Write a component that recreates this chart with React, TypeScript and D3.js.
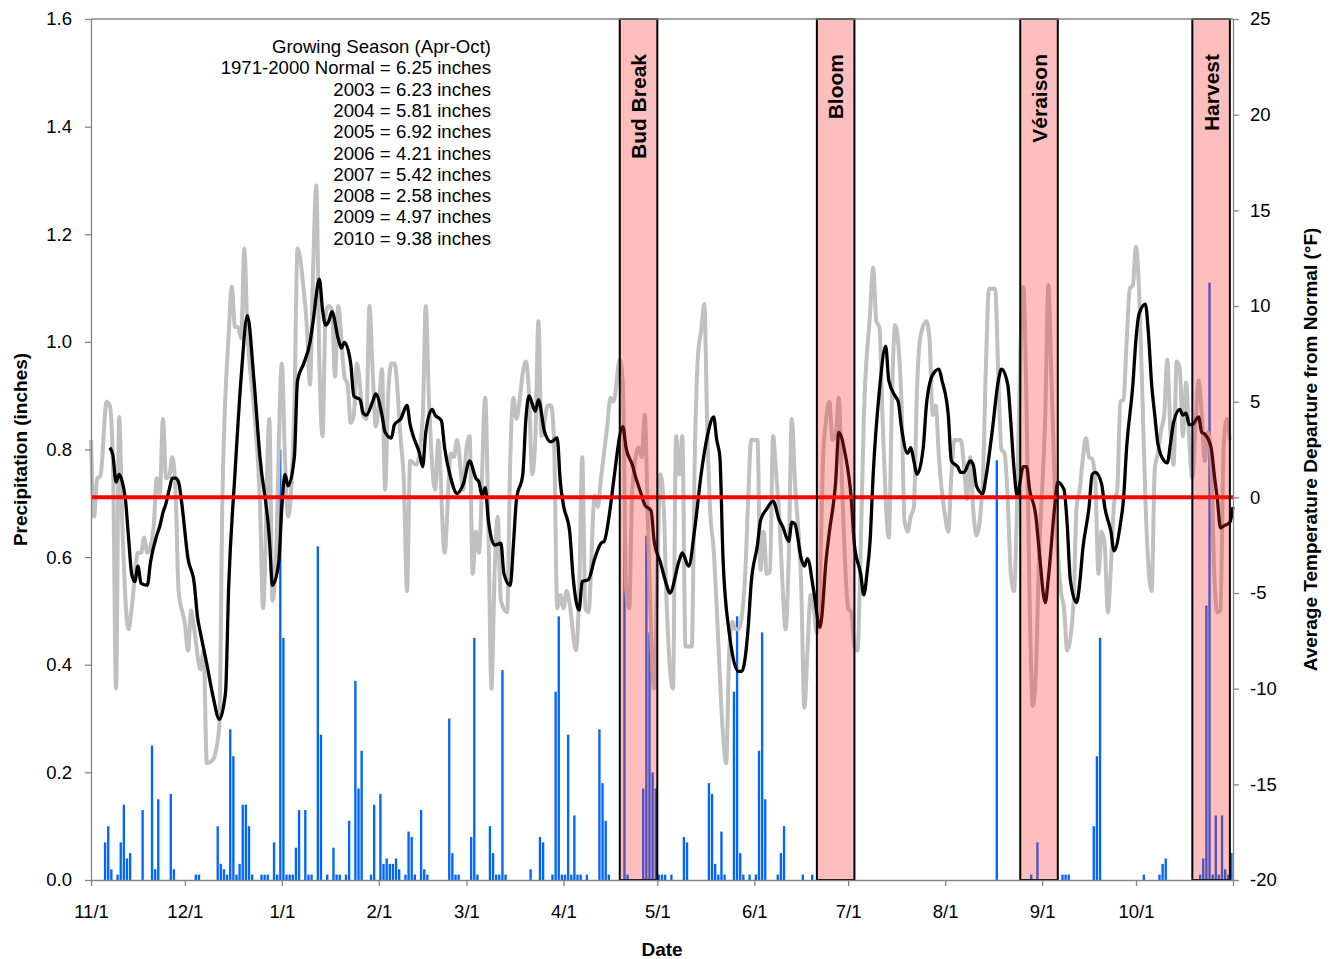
import React, { useEffect, useRef } from "react";
import * as d3 from "d3";

// days counted from 11/1
const monthDays = [0, 30, 61, 92, 120, 151, 181, 212, 242, 273, 304, 334];
const monthLabels = ["11/1", "12/1", "1/1", "2/1", "3/1", "4/1", "5/1", "6/1", "7/1", "8/1", "9/1", "10/1"];
const precipTicks = [0, 0.2, 0.4, 0.6, 0.8, 1.0, 1.2, 1.4, 1.6];
const tempTicks = [-20, -15, -10, -5, 0, 5, 10, 15, 20, 25];

// daily precipitation (inches): [day, value]
const precipitation: [number, number][] = [
  [4, 0.07], [5, 0.1], [6, 0.02], [8, 0.01], [9, 0.07], [10, 0.14], [11, 0.04], [12, 0.05], [16, 0.13],
  [19, 0.25], [20, 0.02], [21, 0.15], [25, 0.16], [26, 0.02], [33, 0.01], [34, 0.01], [40, 0.1], [41, 0.03],
  [42, 0.02], [43, 0.01], [44, 0.28], [45, 0.23], [46, 0.01], [47, 0.03], [48, 0.14], [49, 0.14], [50, 0.1],
  [51, 0.01], [54, 0.01], [55, 0.01], [56, 0.01], [58, 0.07], [59, 0.01], [60, 0.8], [61, 0.45], [62, 0.01],
  [63, 0.01], [64, 0.01], [65, 0.06], [66, 0.13], [68, 0.13], [69, 0.01], [70, 0.01], [72, 0.62], [73, 0.27],
  [75, 0.01], [77, 0.06], [78, 0.01], [79, 0.01], [81, 0.01], [82, 0.11], [84, 0.37], [85, 0.17], [86, 0.24],
  [89, 0.01], [90, 0.14], [92, 0.16], [93, 0.03], [94, 0.04], [95, 0.03], [96, 0.03], [97, 0.04], [98, 0.02],
  [100, 0.01], [101, 0.09], [102, 0.08], [103, 0.01], [105, 0.13], [106, 0.02], [107, 0.01], [114, 0.3],
  [115, 0.05], [116, 0.01], [117, 0.01], [121, 0.08], [122, 0.45], [123, 0.01], [127, 0.1], [128, 0.05],
  [129, 0.01], [130, 0.01], [131, 0.39], [132, 0.01], [140, 0.02], [143, 0.08], [144, 0.07], [147, 0.01],
  [148, 0.35], [149, 0.49], [150, 0.01], [151, 0.01], [152, 0.27], [153, 0.01], [154, 0.12], [155, 0.01],
  [156, 0.01], [158, 0.01], [162, 0.28], [163, 0.18], [164, 0.11], [165, 0.01], [170, 0.74], [171, 0.01],
  [176, 0.17], [177, 0.64], [178, 0.46], [179, 0.2], [180, 0.17], [181, 0.01], [182, 0.01], [183, 0.01],
  [185, 0.01], [189, 0.08], [190, 0.07], [197, 0.18], [198, 0.16], [199, 0.03], [200, 0.01], [201, 0.09],
  [202, 0.01], [205, 0.35], [206, 0.49], [207, 0.05], [208, 0.01], [210, 0.01], [212, 0.01], [213, 0.24],
  [214, 0.46], [215, 0.15], [219, 0.01], [220, 0.05], [221, 0.1], [227, 0.01], [230, 0.01], [289, 0.78],
  [300, 0.01], [302, 0.07], [310, 0.01], [311, 0.01], [312, 0.01], [320, 0.1], [321, 0.23], [322, 0.45],
  [336, 0.01], [341, 0.01], [342, 0.03], [343, 0.04], [354, 0.01], [355, 0.04], [356, 0.51], [357, 1.11],
  [358, 0.01], [359, 0.12], [360, 0.01], [361, 0.12], [362, 0.02], [363, 0.01], [364, 0.05],
];

// daily temperature departure (°F): [day, value]
const dailyDeparture: [number, number][] = [
  [0, 3.0], [1, -1.0], [2, 1.0], [3, 1.1], [5, 5.0], [6, 4.8], [7, 1.9], [8, -10.0], [9, 4.2], [10, -1.4],
  [12, -6.9], [13, -5.8], [15, -2.9], [16, -2.9], [17, -2.1], [18, -2.9], [20, -1.6], [21, 1.0], [22, 0.2],
  [23, 4.1], [24, 1.0], [25, 1.1], [26, 2.1], [27, 0.4], [28, -4.9], [30, -6.6], [31, -8.0], [32, -5.9],
  [33, -6.9], [35, -9.0], [36, -8.0], [37, -13.9], [39, -13.7], [41, -12.0], [42, -0.1], [44, 8.5], [45, 11.0],
  [46, 8.9], [47, 8.9], [48, 8.3], [49, 13.0], [50, 8.7], [52, 4.8], [54, -0.3], [55, -5.8], [57, 4.1],
  [58, -5.4], [59, -3.6], [61, 7.0], [62, 2.0], [63, -1.0], [65, 4.8], [66, 13.0], [68, 10.8], [69, 8.9],
  [70, 5.9], [71, 12.0], [72, 16.3], [73, 7.0], [74, 3.2], [75, 9.6], [76, 10.0], [77, 9.8], [78, 6.3],
  [79, 10.0], [81, 6.3], [82, 5.9], [83, 3.9], [84, 4.3], [85, 7.0], [87, 4.3], [88, 4.1], [89, 10.0],
  [90, 6.7], [91, 3.7], [92, 4.8], [93, 6.7], [94, 0.4], [95, 5.4], [96, 7.0], [97, 7.0], [99, 3.0],
  [100, 0.8], [101, -4.9], [102, 1.9], [104, 1.7], [106, 4.1], [107, 10.0], [108, 5.2], [110, 0.4],
  [111, 3.0], [113, -2.9], [115, 2.3], [116, 2.1], [117, 3.0], [119, 0.4], [120, 2.6], [121, 3.2],
  [122, -4.0], [123, -1.8], [124, -2.9], [126, 5.2], [127, -1.4], [128, -10.0], [129, -4.0], [130, -1.0],
  [131, -5.4], [133, -6.0], [134, 2.0], [135, 5.2], [136, 4.1], [137, 5.1], [138, 6.5], [139, 7.1],
  [140, 5.4], [141, 1.2], [142, 3.0], [143, 9.2], [144, 3.2], [146, 4.8], [147, 4.8], [148, 3.0],
  [149, -5.8], [150, -5.1], [151, -5.8], [152, -4.9], [153, -5.6], [155, -8.0], [156, -5.1], [157, 2.1],
  [158, -5.8], [159, -6.0], [161, 0.1], [162, -0.5], [163, 1.0], [165, 3.7], [166, 5.2], [167, 5.0],
  [169, 7.2], [170, 5.9], [171, -4.7], [172, -5.8], [173, 0.4], [175, 2.6], [176, 2.1], [177, 4.3],
  [178, -1.4], [180, -10.0], [181, -4.0], [182, 1.2], [183, -0.3], [184, -5.6], [186, -10.0], [187, 3.2],
  [188, 1.2], [189, 3.2], [190, -7.8], [192, -7.8], [193, 2.3], [194, 7.4], [195, 8.7], [196, 10.1],
  [197, 3.4], [198, -1.0], [199, -2.7], [200, -5.8], [202, -12.4], [203, -13.9], [204, -8.0], [205, -6.5],
  [206, -6.9], [207, -6.9], [209, -4.3], [210, -0.3], [211, 3.0], [213, 3.0], [214, -3.8], [215, -1.8],
  [216, -4.0], [217, -3.9], [218, 3.2], [219, 1.2], [220, -1.0], [221, -4.5], [222, -6.9], [223, -3.2],
  [224, 4.1], [225, 0.8], [227, -4.7], [228, -11.0], [229, -8.0], [230, -5.1], [231, -5.8], [232, -7.1],
  [233, -4.3], [234, 2.1], [235, 4.1], [236, 5.0], [237, 3.0], [238, 3.2], [239, 5.2], [240, 0.8],
  [242, -5.8], [243, -6.0], [244, -7.8], [245, -8.0], [246, -2.7], [247, 4.1], [249, 9.6], [250, 12.0],
  [251, 9.2], [252, 8.9], [253, 4.1], [255, -2.1], [256, 5.2], [257, 9.0], [259, 5.2], [260, -1.2],
  [261, -1.8], [262, -1.0], [263, -0.5], [264, 5.6], [265, 8.3], [267, 9.2], [268, 8.3], [269, 4.3],
  [270, 4.8], [271, 2.1], [273, -1.0], [274, -1.8], [275, 1.2], [276, 3.0], [278, 3.0], [279, 1.7],
  [280, -0.1], [281, 2.1], [282, -0.7], [283, -2.0], [285, 0.8], [286, 6.7], [287, 10.9], [289, 10.9],
  [290, 6.3], [291, 2.5], [292, 2.3], [293, -0.1], [294, -4.0], [295, -4.9], [296, -0.3], [297, 7.4],
  [298, 11.0], [299, 4.8], [300, -5.4], [301, -10.9], [302, -9.1], [303, -3.2], [305, 4.3], [306, 11.1],
  [307, 6.0], [308, 0.8], [310, -4.9], [311, -5.8], [312, -8.0], [314, -5.6], [315, -0.5], [316, 0.4],
  [317, 2.0], [318, 3.1], [319, 2.1], [320, 2.0], [321, 0.8], [322, -4.0], [323, -1.8], [324, -2.5],
  [325, -6.0], [326, -3.6], [327, -0.3], [328, 0.4], [329, 5.0], [330, 5.1], [331, 8.1], [332, 10.9],
  [333, 11.1], [334, 13.1], [335, 10.7], [336, 5.6], [337, -0.1], [339, -4.9], [340, 1.5], [341, 2.3],
  [342, 3.5], [343, 4.3], [344, 7.2], [345, 3.4], [346, 1.7], [347, 7.1], [348, 6.7], [349, 3.2],
  [350, 6.0], [351, 3.0], [352, 1.0], [353, 3.7], [354, 6.1], [355, 4.3], [356, 1.9], [357, 3.4],
  [358, 2.1], [359, -4.0], [360, -6.0], [361, -5.9], [362, 2.6], [363, 4.1], [364, 3.0],
];

// smoothed temperature departure (°F): [day, value]
const smoothedDeparture: [number, number][] = [
  [6, 2.6], [7, 2.2], [8, 0.8], [9, 1.2], [10, 0.8], [11, -0.1], [12, -2.1], [13, -4.0], [14, -4.4],
  [15, -3.6], [16, -4.5], [18, -4.6], [19, -3.4], [21, -2.0], [22, -1.5], [23, -0.8], [24, -0.3], [25, 0.4],
  [26, 1.0], [27, 1.0], [28, 0.8], [29, -0.3], [31, -3.2], [33, -4.5], [34, -6.2], [35, -7.1], [37, -8.7],
  [39, -10.4], [41, -11.6], [43, -10.2], [44, -4.7], [46, 1.2], [48, 6.3], [50, 9.5], [52, 6.3], [54, 2.1],
  [57, -2.1], [58, -4.6], [60, -3.4], [61, -0.5], [62, 1.2], [63, 0.6], [65, 2.1], [66, 6.1], [68, 7.0],
  [70, 8.1], [71, 9.2], [73, 11.4], [74, 9.8], [75, 9.0], [76, 9.2], [77, 9.7], [79, 8.3], [80, 7.8],
  [81, 8.1], [83, 7.0], [84, 5.3], [86, 5.1], [87, 4.4], [88, 4.3], [90, 5.0], [91, 5.4], [93, 4.3],
  [94, 3.4], [96, 3.1], [97, 3.8], [99, 4.1], [101, 4.8], [102, 3.8], [103, 3.2], [105, 2.3], [106, 1.6],
  [107, 3.4], [109, 4.6], [110, 4.3], [112, 4.0], [113, 2.6], [115, 1.0], [117, 0.2], [119, 0.7],
  [121, 1.9], [123, 1.0], [124, 0.8], [125, 0.1], [126, 0.5], [127, -1.2], [129, -2.5], [131, -2.4],
  [132, -4.0], [134, -4.6], [135, -2.5], [136, -0.1], [138, 1.2], [139, 4.1], [140, 5.3], [142, 4.5],
  [143, 5.1], [145, 3.4], [147, 2.9], [149, 3.1], [150, 0.8], [151, -0.4], [153, -1.8], [154, -4.0],
  [156, -5.9], [157, -4.4], [159, -4.3], [161, -3.2], [163, -2.4], [164, -2.3], [166, -0.5], [167, 0.8],
  [170, 3.7], [171, 2.6], [173, 1.7], [174, 1.1], [176, 0.1], [177, -0.4], [179, -0.7], [180, -2.3],
  [182, -3.4], [184, -4.6], [185, -5.0], [188, -3.3], [189, -2.9], [191, -3.6], [193, -1.6], [195, 1.2],
  [197, 3.2], [199, 4.2], [200, 3.0], [201, 2.1], [202, -3.2], [204, -7.1], [205, -8.2], [207, -9.1],
  [208, -9.1], [210, -6.9], [211, -4.5], [213, -2.5], [214, -1.2], [216, -0.6], [218, -0.2], [220, -1.2],
  [221, -1.5], [223, -2.3], [224, -1.3], [225, -1.4], [227, -3.2], [228, -3.6], [229, -3.2], [231, -4.9],
  [233, -6.8], [235, -3.2], [236, -1.8], [238, 0.8], [239, 3.4], [241, 2.3], [243, -0.1], [244, -2.5],
  [246, -4.0], [247, -5.1], [248, -4.0], [249, -2.3], [250, 1.2], [252, 5.6], [254, 7.9], [255, 6.1],
  [257, 5.3], [258, 5.0], [259, 3.7], [261, 2.3], [262, 2.6], [263, 1.9], [264, 1.2], [266, 2.6],
  [267, 4.8], [269, 6.4], [271, 6.7], [272, 6.1], [274, 4.3], [275, 1.9], [277, 1.6], [278, 1.3],
  [279, 1.3], [281, 1.9], [282, 1.7], [283, 0.6], [285, 0.2], [286, 1.0], [288, 3.4], [290, 6.1],
  [291, 6.7], [293, 5.9], [294, 3.9], [295, 1.5], [296, 0.1], [298, 1.6], [299, 1.6], [300, 0.4],
  [302, -1.0], [303, -2.7], [305, -5.5], [306, -4.2], [308, -0.5], [309, 0.8], [311, 0.4], [312, -1.4],
  [313, -4.3], [315, -5.5], [316, -4.5], [317, -2.7], [319, -0.5], [320, 1.2], [321, 1.3], [323, 0.7],
  [324, -0.5], [326, -1.8], [327, -2.8], [329, -1.4], [330, -0.1], [331, 2.6], [333, 5.9], [334, 8.3],
  [335, 9.6], [337, 10.1], [338, 8.5], [339, 5.9], [340, 4.3], [341, 2.8], [343, 1.9], [344, 1.8],
  [345, 2.8], [346, 3.9], [348, 4.6], [349, 4.3], [350, 4.4], [351, 3.8], [352, 3.8], [354, 4.2],
  [355, 3.4], [356, 3.3], [358, 2.6], [359, 1.2], [360, -0.1], [361, -1.6], [362, -1.5], [364, -1.3],
  [365, -0.5],
];

// growth stages
const stageNames = ["Bud Break", "Bloom", "Véraison", "Harvest"];
const stageStart = [169, 232, 297, 352];
const stageEnd = [181, 244, 309, 364];

const seasonNotes = [
  "Growing Season (Apr-Oct)",
  "1971-2000 Normal = 6.25 inches",
  "2003 = 6.23 inches",
  "2004 = 5.81 inches",
  "2005 = 6.92 inches",
  "2006 = 4.21 inches",
  "2007 = 5.42 inches",
  "2008 = 2.58 inches",
  "2009 = 4.97 inches",
  "2010 = 9.38 inches",
];

const W = 1330, H = 959;
const FONT = "'Liberation Sans', Arial, sans-serif";

const App = () => {
  const ref = useRef<SVGSVGElement>(null);

  useEffect(() => {
    const svg = d3.select(ref.current);
    svg.selectAll("*").remove();

    const left = 91, right = 1233, top = 19, bottom = 880;
    const x = d3.scaleLinear().domain([0, 365]).range([left, right]);
    const yP = d3.scaleLinear().domain([0, 1.6]).range([bottom, top]);
    const yT = d3.scaleLinear().domain([-20, 25]).range([bottom, top]);

    // precipitation bars
    const bw = (x(1) - x(0)) * 0.75;
    svg.append("g").selectAll("rect")
      .data(precipitation)
      .join("rect")
      .attr("x", d => x(d[0] + 0.5) - bw / 2)
      .attr("y", d => yP(d[1]))
      .attr("width", bw)
      .attr("height", d => yP(0) - yP(d[1]))
      .attr("fill", "#0066ff");

    const line = d3.line<[number, number]>()
      .x(d => x(d[0]))
      .y(d => yT(d[1]))
      .curve(d3.curveMonotoneX);

    svg.append("path").attr("d", line(dailyDeparture))
      .attr("fill", "none").attr("stroke", "#c0c0c0").attr("stroke-width", 4)
      .attr("stroke-linejoin", "round");
    svg.append("path").attr("d", line(smoothedDeparture))
      .attr("fill", "none").attr("stroke", "#000").attr("stroke-width", 3.3)
      .attr("stroke-linejoin", "round");

    svg.append("line")
      .attr("x1", x(0)).attr("x2", x(365))
      .attr("y1", yT(0)).attr("y2", yT(0))
      .attr("stroke", "#ff0000").attr("stroke-width", 4);

    // stage bands (translucent, over the data)
    const bands = svg.append("g").selectAll("g")
      .data(stageNames)
      .join("g");
    bands.append("rect")
      .attr("x", (d, i) => x(stageStart[i]))
      .attr("y", top)
      .attr("width", (d, i) => x(stageEnd[i]) - x(stageStart[i]))
      .attr("height", bottom - top)
      .attr("fill", "#ff2828").attr("fill-opacity", 0.3)
      .attr("stroke", "#000").attr("stroke-width", 2);
    bands.append("text")
      .attr("transform", (d, i) => `translate(${(x(stageStart[i]) + x(stageEnd[i])) / 2},54) rotate(-90)`)
      .attr("text-anchor", "end")
      .attr("dominant-baseline", "central")
      .style("font-family", FONT).style("font-size", "21px").style("font-weight", "bold")
      .text(d => d);

    // frame top
    svg.append("line")
      .attr("x1", left).attr("x2", right).attr("y1", top).attr("y2", top)
      .attr("stroke", "#868686").attr("stroke-width", 1.3);

    const styleAxis = (g: any) => {
      g.selectAll("path, line").attr("stroke", "#868686").attr("stroke-width", 1.3);
      g.selectAll("text").style("font-family", FONT).style("font-size", "18.5px").attr("fill", "#000");
    };

    svg.append("g").attr("transform", `translate(0,${bottom})`)
      .call(d3.axisBottom(x)
        .tickValues([...monthDays, 365])
        .tickFormat((d, i) => monthLabels[i] ?? "")
        .tickSize(6).tickSizeOuter(0).tickPadding(19))
      .call(styleAxis);

    svg.append("g").attr("transform", `translate(${left},0)`)
      .call(d3.axisLeft(yP).tickValues(precipTicks).tickFormat(d3.format(".1f"))
        .tickSize(6).tickSizeOuter(0).tickPadding(13))
      .call(styleAxis);

    svg.append("g").attr("transform", `translate(${right},0)`)
      .call(d3.axisRight(yT).tickValues(tempTicks).tickFormat(d => String(d))
        .tickSize(6).tickSizeOuter(0).tickPadding(11))
      .call(styleAxis);

    // axis titles
    const title = (tx: number, ty: number, rot: number, s: string) =>
      svg.append("text")
        .attr("transform", `translate(${tx},${ty}) rotate(${rot})`)
        .attr("text-anchor", "middle")
        .attr("dominant-baseline", "central")
        .style("font-family", FONT).style("font-size", "19px").style("font-weight", "bold")
        .text(s);
    title(20, (top + bottom) / 2, -90, "Precipitation (inches)");
    title(1310, (top + bottom) / 2, -90, "Average Temperature Departure from Normal (°F)");
    title((left + right) / 2, 949, 0, "Date");

    // season totals note
    svg.append("g").selectAll("text")
      .data(seasonNotes)
      .join("text")
      .attr("x", 491)
      .attr("y", (d, i) => 53 + i * 21.3)
      .attr("text-anchor", "end")
      .style("font-family", FONT).style("font-size", "18.6px")
      .text(d => d);
  }, []);

  return (
    <svg ref={ref} width={W} height={H}
      style={{ position: "absolute", left: 0, top: 0, background: "#fff" }} />
  );
};

export default App;
